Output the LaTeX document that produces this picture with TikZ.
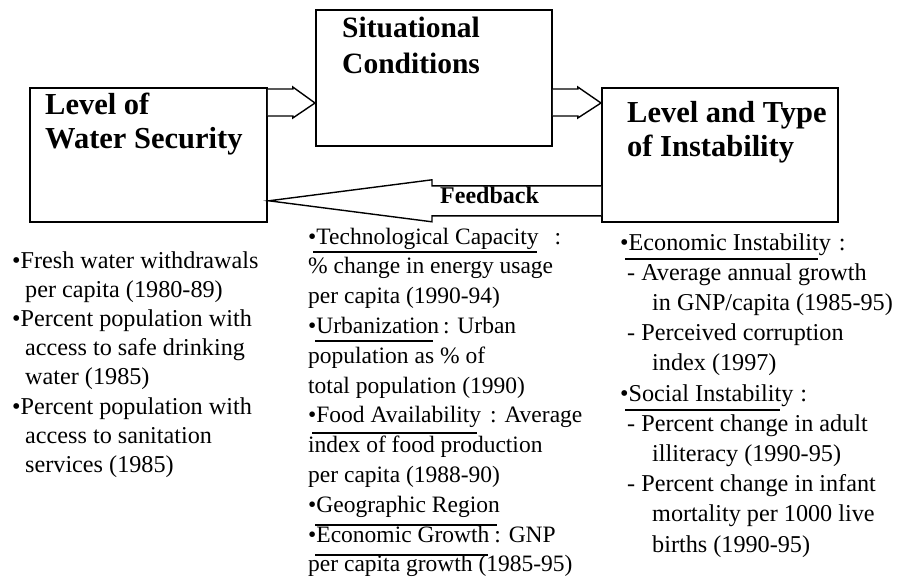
\documentclass[tikz,border=0pt]{standalone}
\usepackage{fontspec}
\setmainfont{Liberation Serif}
\usetikzlibrary{calc}
\begin{document}
\begin{tikzpicture}[x=1pt,y=-1pt,
  box/.style={draw, line width=1.8pt, inner sep=0pt, anchor=north west},
  title/.style={anchor=base west, inner sep=0pt, font=\fontsize{30.5}{35}\selectfont\bfseries},
  midtitle/.style={anchor=base west, inner sep=0pt, font=\fontsize{29.5}{35}\selectfont\bfseries},
  body/.style={anchor=base west, inner sep=0pt, font=\fontsize{24.2}{29}\selectfont},
  midbody/.style={anchor=base west, inner sep=0pt, font=\fontsize{23.5}{29}\selectfont},
  fbtext/.style={anchor=base west, inner sep=0pt, font=\fontsize{24}{29}\selectfont\bfseries},
  blockarrow/.style={draw, line width=1.4pt, fill=white, line join=miter},
  uline/.style={line width=1.3pt}]
\useasboundingbox (0,0) rectangle (898,581);

% boxes
\node[box, minimum width=237pt, minimum height=134pt] (wsec) at (29,87) {};
\node[box, minimum width=236pt, minimum height=136pt] (sit) at (315,9) {};
\node[box, minimum width=236pt, minimum height=134pt] (inst) at (601,87) {};

% titles
\node[title] (t1a) at (45,114) {Level of};
\node[title] (t1b) at (45,148) {Water Security};
\node[midtitle] (t2a) at (342,37) {Situational};
\node[midtitle] (t2b) at (342,73) {Conditions};
\node[title] (t3a) at (627,122) {Level and Type};
\node[title] (t3b) at (627,156) {of Instability};

% block arrows
\draw[blockarrow] ($(wsec.north east)+(0,2)$) -- ++(25,0) -- ++(0,-2)
  -- ($(sit.north west)+(0,94)$) -- ($(wsec.north east)+(25,31)$) -- ++(0,-2)
  -- ($(wsec.north east)+(0,29)$);
\draw[blockarrow] ($(sit.north east)+(0,80)$) -- ++(25,0) -- ++(0,-2)
  -- ($(inst.north west)+(0,16)$) -- ($(sit.north east)+(25,109)$) -- ++(0,-2)
  -- ($(sit.north east)+(0,107)$);
\draw[blockarrow] ($(inst.south west)+(0,-37)$) -- ++(-169,0) -- ++(0,-6)
  -- ($(wsec.south east)+(1,-22)$) -- ($(inst.south west)+(-169,-1)$) -- ++(0,-6)
  -- ($(inst.south west)+(0,-7)$);
\node[fbtext] (fbk) at (440,203) {Feedback};

% left column
\foreach \i/\x/\t in {1/12/{•Fresh water withdrawals},
  2/25/{per capita (1980-89)},
  3/12/{•Percent population with},
  4/25/{access to safe drinking},
  5/25/{water (1985)},
  6/12/{•Percent population with},
  7/25/{access to sanitation},
  8/25/{services (1985)}}
  \node[body] (L\i) at (\x,{268+29.2*(\i-1)}) {\t};

% middle column
\foreach \i/\t in {1/{•Technological Capacity\hspace{16pt}:},
  2/{\% change in energy usage},
  3/{per capita (1990-94)},
  4/{•Urbanization\hspace{4pt}: Urban},
  5/{population as \% of},
  6/{total population (1990)},
  7/{•Food Availability\hspace{9pt}: Average},
  8/{index of food production},
  9/{per capita (1988-90)},
  10/{•Geographic Region},
  11/{•Economic Growth\hspace{5pt}: GNP},
  12/{per capita growth (1985-95)}}
  \node[midbody] (M\i) at (308,{244+29.8*(\i-1)}) {\t};

% right column
\foreach \i/\x/\t in {1/620/{•Economic Instability\hspace{8pt}:},
  2/627/{- Average annual growth},
  3/652/{in GNP/capita (1985-95)},
  4/627/{- Perceived corruption},
  5/652/{index (1997)},
  6/620/{•Social Instability\hspace{7pt}:},
  7/627/{- Percent change in adult},
  8/652/{illiteracy (1990-95)},
  9/627/{- Percent change in infant},
  10/652/{mortality per 1000 live},
  11/652/{births (1990-95)}}
  \node[body] (R\i) at (\x,{250+30.2*(\i-1)}) {\t};

% underlines
\draw[uline] (313,252) -- (537,252);
\draw[uline] (315,341) -- (433,341);
\draw[uline] (312,433) -- (477,433);
\draw[uline] (315,525) -- (497,525);
\draw[uline] (315,555) -- (488,555);
\draw[uline] (625,259) -- (818,259);
\draw[uline] (625,410) -- (780,410);
\end{tikzpicture}
\end{document}
